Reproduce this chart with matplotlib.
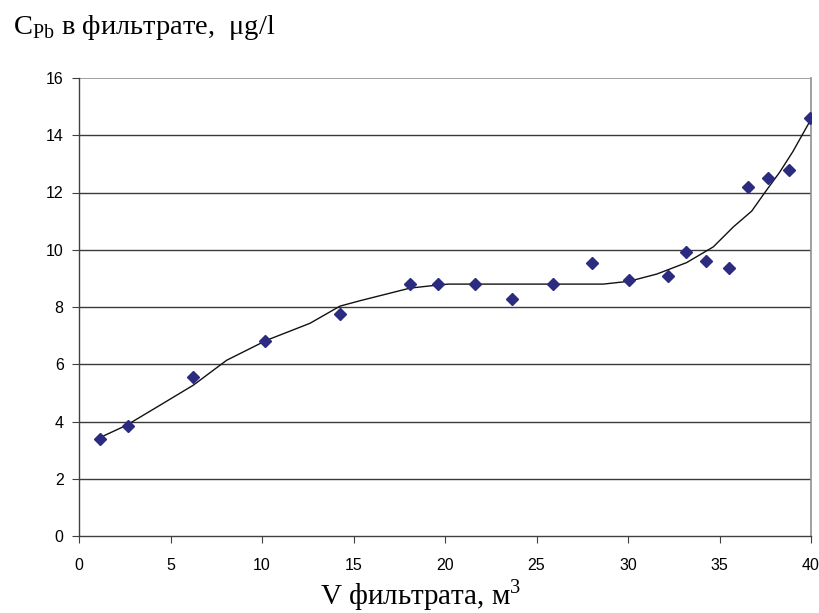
import matplotlib.pyplot as plt

plt.rcParams['mathtext.fontset'] = 'custom'
plt.rcParams['mathtext.rm'] = 'Liberation Serif'

# measured points: volume of filtrate (m3) vs Pb concentration (ug/l)
v_points = [1.15, 2.66, 6.25, 10.16, 14.26, 18.09, 19.6, 21.64, 23.64, 25.88,
            28.05, 30.07, 32.17, 33.17, 34.26, 35.5, 36.57, 37.67, 38.8, 39.95]
c_points = [3.40, 3.83, 5.54, 6.82, 7.76, 8.80, 8.80, 8.80, 8.28, 8.80,
            9.52, 8.95, 9.08, 9.92, 9.60, 9.37, 12.18, 12.52, 12.80, 14.60]

# smoothed trend line
v_curve = [1.15, 2.6, 4.43, 6.25, 8.07, 10.26, 12.62, 14.26, 15.36, 18.09,
           19.36, 20.18, 24.0, 28.65, 30.07, 31.57, 33.2, 34.66, 35.76,
           36.76, 37.5, 38.3, 39.0, 39.95]
c_curve = [3.44, 3.87, 4.57, 5.27, 6.14, 6.84, 7.43, 8.03, 8.22, 8.66,
           8.75, 8.80, 8.80, 8.80, 8.90, 9.15, 9.55, 10.10, 10.80,
           11.35, 12.02, 12.72, 13.42, 14.50]

x_ticks = [0, 5, 10, 15, 20, 25, 30, 35, 40]
y_ticks = [0, 2, 4, 6, 8, 10, 12, 14, 16]

fig = plt.figure(figsize=(8.19, 6.13), dpi=100)
ax = fig.add_axes([79 / 819, 1 - 536 / 613, (811 - 79) / 819, (536 - 78) / 613])

# horizontal grid
for yv in y_ticks[1:-1]:
    ax.axhline(yv, color='#3a3a3a', lw=1.0, zorder=1)
ax.axhline(y_ticks[-1], color='#909090', lw=1.2, zorder=1)

ax.plot(v_curve, c_curve, color='#111111', lw=1.0, zorder=2)
ax.plot(v_points, c_points, linestyle='none', marker='D', markersize=6,
        color='#2b2b7f', zorder=3)

ax.set_xlim(0, 40)
ax.set_ylim(0, 16)
ax.set_xticks(x_ticks)
ax.set_yticks(y_ticks)
ax.tick_params(direction='out', length=5, color='#404040', labelsize=11.5)
ax.tick_params(axis='y', pad=6)
ax.tick_params(axis='x', pad=11)
for lab in ax.get_xticklabels() + ax.get_yticklabels():
    lab.set_family('Liberation Sans')

ax.spines['top'].set_visible(False)
for s in ['left', 'bottom']:
    ax.spines[s].set_color('#404040')
    ax.spines[s].set_linewidth(1.0)
ax.spines['right'].set_color('#909090')
ax.spines['right'].set_linewidth(1.2)

serif = ['Liberation Serif', 'DejaVu Serif']
fig.text(13 / 819, 1 - 34 / 613, r'C$_{\mathrm{Pb}}$ в фильтрате,  μg/l',
         family=serif, fontsize=20.5, ha='left', va='baseline')
fig.text(320 / 819, 1 - 604 / 613, r'V фильтрата, м$^3$',
         family=serif, fontsize=21, ha='left', va='baseline')

fig.savefig('out.png', dpi=100)
